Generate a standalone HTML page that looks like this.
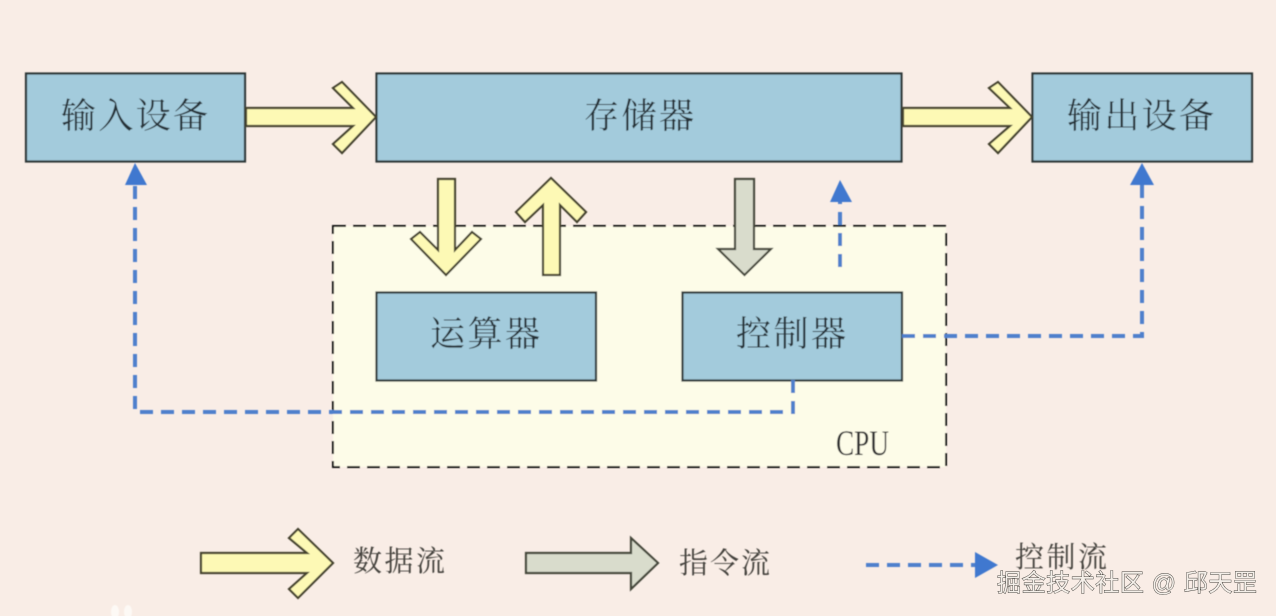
<!DOCTYPE html>
<html><head><meta charset="utf-8"><style>
html,body{margin:0;padding:0;background:#f9ede6;width:1276px;height:616px;overflow:hidden}
svg{display:block}
text{font-family:"Liberation Serif","Noto Serif CJK SC","Noto Sans CJK SC",serif;fill:#263238}
</style></head><body>
<svg width="1276" height="616" viewBox="0 0 1276 616" xmlns="http://www.w3.org/2000/svg">
<defs><filter id="b" x="-5%" y="-5%" width="110%" height="110%"><feGaussianBlur stdDeviation="0.6"/></filter></defs>
<rect width="1276" height="616" fill="#f9ede6"/>
<g filter="url(#b)">
<rect x="333" y="226" width="613" height="241" fill="#fdfce8" stroke="#111" stroke-width="2" stroke-dasharray="13 7"/>
<g fill="#a3cbdc" stroke="#2f3838" stroke-width="2.200">
<rect x="26" y="73.500" width="219" height="88"/>
<rect x="376.500" y="73.500" width="525" height="88"/>
<rect x="1032.500" y="73.500" width="219.500" height="88"/>
<rect x="376.500" y="292.500" width="219.500" height="88"/>
<rect x="682.500" y="292.500" width="219.500" height="88"/>
</g>
<g fill="#fdf9b5" stroke="#45432f" stroke-width="2.200" stroke-linejoin="miter">
<path d="M246,108H353L333,88L342,82L376,117L342,153L333,144L353,126H246Z"/>
<path d="M903,108H1010L989,88L998,82L1032,117L998,153L989,144L1010,126H903Z"/>
<path d="M438,179H455V250L472,232L481,239L446,275L411,239L420,232L438,250Z"/>
<path d="M543,275H560V205L577,222L586,212L551,178L516,212L525,222L543,205Z"/>
<path d="M201,553H307L289,538L298,529L333,563L298,598L289,589L307,573H201Z"/>
</g>
<g fill="#d9dccc" stroke="#45473a" stroke-width="2.200">
<path d="M735,179H754V249H771L744.500,275L718,249H735Z"/>
<path d="M526,553H631V538L658,563L631,589V573H526Z"/>
</g>
<g fill="none" stroke="#5080cc" stroke-width="4" stroke-dasharray="13 8">
<path d="M793,380V412H135V185"/>
<path d="M902,336H1142V185"/>
<path d="M840,267V202"/>
<path d="M866,565H975"/>
</g>
<g fill="#3f78cf">
<path d="M135,163L147,185H125Z"/>
<path d="M1142,163L1154,185H1130Z"/>
<path d="M840,180L852,202H830Z"/>
<path d="M998,565L975,552V578Z"/>
</g>
<ellipse cx="115" cy="612" rx="4" ry="7" fill="#fdf9f5"/>
<ellipse cx="128" cy="612" rx="4" ry="7" fill="#fdf9f5"/>
<g font-size="35">
<text x="61" y="128" textLength="147">输入设备</text>
<text x="584" y="128" textLength="110">存储器</text>
<text x="1067" y="128" textLength="147">输出设备</text>
<text x="430" y="346" textLength="110">运算器</text>
<text x="736" y="346" textLength="110">控制器</text>
</g>
<text x="836" y="455" font-size="36" textLength="53" lengthAdjust="spacingAndGlyphs" style="fill:#333">CPU</text>
<g font-size="29">
<text x="353" y="571" textLength="92" style="fill:#45433e">数据流</text>
<text x="679" y="573" textLength="91" style="fill:#45433e">指令流</text>
<text x="1015" y="567" textLength="92" style="fill:#45433e">控制流</text>
</g>
</g>
<text x="997" y="591" font-size="24" textLength="260" style="font-family:'Liberation Sans','Noto Sans CJK SC',sans-serif;fill:#f4efe9;stroke:#3f3d38;stroke-width:0.9;paint-order:stroke">掘金技术社区 @ 邱天罡</text>
</svg>
</body></html>
